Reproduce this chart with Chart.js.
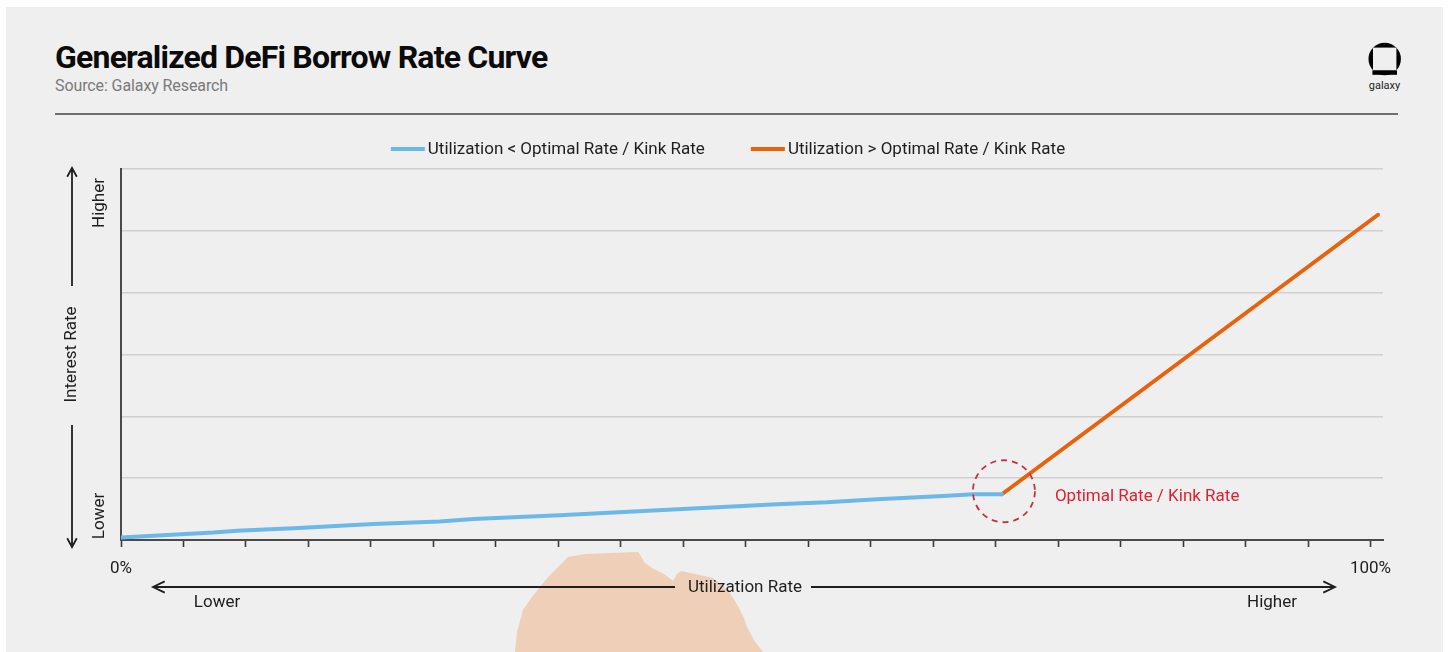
<!DOCTYPE html>
<html>
<head>
<meta charset="utf-8">
<title>Generalized DeFi Borrow Rate Curve</title>
<script src="https://cdn.jsdelivr.net/npm/chart.js@4.4.1/dist/chart.umd.min.js"></script>
<style>
  html, body { margin: 0; padding: 0; background: #fff; }
  body { width: 1450px; height: 652px; position: relative; overflow: hidden; font-family: Roboto, "Noto Sans", sans-serif; }
  .card { position: absolute; left: 6px; top: 7px; width: 1437px; height: 660px; background: #efefef; }
  h1 { position: absolute; left: 55px; top: 41px; margin: 0; font-size: 32px; font-weight: 700; letter-spacing: -0.8px; line-height: 1; color: #0b0b0b; white-space: nowrap; }
  .source { position: absolute; left: 55px; top: 77px; font-size: 16px; line-height: 18px; letter-spacing: -0.1px; color: #7a7a7a; }
  .rule { position: absolute; left: 55px; top: 113px; width: 1343px; height: 2px; background: #6e6e6e; }
  .logo { position: absolute; left: 1364px; top: 40px; }
  .logo-text { position: absolute; left: 1364px; top: 79px; width: 41px; text-align: center; font-size: 11px; line-height: 13px; color: #222; }
  .blob { position: absolute; left: 0; top: 0; }
  .chart-box { position: absolute; left: 0; top: 120px; width: 1450px; height: 532px; }
</style>
</head>
<body>
<div class="card"></div>
<h1>Generalized DeFi Borrow Rate Curve</h1>
<div class="source">Source: Galaxy Research</div>
<div class="rule"></div>
<svg class="logo" width="42" height="38" viewBox="0 0 42 38">
  <circle cx="20.7" cy="19" r="16.2" fill="#000"/>
  <rect x="9" y="7.6" width="23.4" height="23" fill="#efefef"/>
  <rect x="8.4" y="30.4" width="24.6" height="4.4" fill="#000"/>
</svg>
<div class="logo-text">galaxy</div>
<svg class="blob" width="1450" height="652">
  <path fill="#efcfb7" d="M515,652 L517,632 L523,610 L532,597 L540,587 L550,575 L560,565 L568,557 L585,554 L610,553 L638,552 L641,556 L644,562 L652,568 L664,574 L673,581 L677,574 L681,571 L695,574 L713,578 L722,585 L730,593 L738,606 L744,618 L747,627 L754,640 L763,652 Z"/>
</svg>
<div class="chart-box"><canvas id="rateChart"></canvas></div>

<script>
// Utilization (%) and interest rate (relative units) below the kink
const belowKinkUtil = [0, 7.4, 9.3, 13.8, 20.2, 25.5, 28.2, 35.1, 41.8, 52.5, 56.5, 60.5, 65.8, 68.2, 70.5];
const belowKinkRate = [0.04, 0.12, 0.15, 0.19, 0.26, 0.30, 0.34, 0.40, 0.47, 0.58, 0.61, 0.66, 0.71, 0.74, 0.74];

// Above the kink the slope jumps
const aboveKinkUtil = [70.5, 100.6];
const aboveKinkRate = [0.74, 5.26];

const seriesLabels = ['Utilization < Optimal Rate / Kink Rate', 'Utilization > Optimal Rate / Kink Rate'];
const seriesColors = ['#6bb8e9', '#e8620c'];
const xTickLabels = { 0: '0%', 100: '100%' };
const kinkLabel = 'Optimal Rate / Kink Rate';

const FONT = 'Roboto, "Noto Sans", sans-serif';
const TEXT_SIZE = 17;
const INK = '#1e1e1e';

function toPoints(xs, ys) {
  return xs.map(function (x, i) { return { x: x, y: ys[i] }; });
}

// Open chevron arrow from (x1,y1) to (x2,y2)
function arrow(ctx, x1, y1, x2, y2, head, spread) {
  const ang = Math.atan2(y2 - y1, x2 - x1);
  ctx.beginPath();
  ctx.moveTo(x1, y1);
  ctx.lineTo(x2, y2);
  ctx.moveTo(x2 - head * Math.cos(ang - spread), y2 - head * Math.sin(ang - spread));
  ctx.lineTo(x2, y2);
  ctx.lineTo(x2 - head * Math.cos(ang + spread), y2 - head * Math.sin(ang + spread));
  ctx.stroke();
}

function rotatedText(ctx, text, x, y) {
  ctx.save();
  ctx.translate(x, y);
  ctx.rotate(-Math.PI / 2);
  ctx.fillText(text, 0, 0);
  ctx.restore();
}

// Line-sample legend centred above the plot
const lineLegend = {
  id: 'lineLegend',
  afterDraw(chart) {
    const ctx = chart.ctx;
    const sample = 34, gap = 3, between = 46;
    ctx.save();
    ctx.font = TEXT_SIZE + 'px ' + FONT;
    ctx.textBaseline = 'middle';
    ctx.textAlign = 'left';
    const items = chart.data.datasets.map(function (ds) {
      return { text: ds.label, color: ds.borderColor, w: sample + gap + ctx.measureText(ds.label).width };
    });
    const total = items.reduce(function (s, it) { return s + it.w; }, 0) + between * (items.length - 1);
    let x = 728 - total / 2;
    const y = 29;
    items.forEach(function (it) {
      ctx.strokeStyle = it.color;
      ctx.lineWidth = 4;
      ctx.beginPath();
      ctx.moveTo(x, y);
      ctx.lineTo(x + sample, y);
      ctx.stroke();
      ctx.fillStyle = INK;
      ctx.fillText(it.text, x + sample + gap, y + 1);
      x += it.w + between;
    });
    ctx.restore();
  }
};

// Axis titles, direction arrows and the kink callout
const decorations = {
  id: 'decorations',
  afterDraw(chart) {
    const { ctx, chartArea: a, scales } = chart;
    ctx.save();
    ctx.strokeStyle = INK;
    ctx.fillStyle = INK;
    ctx.lineWidth = 1.8;

    // y axis
    const ax = a.left - 49;
    arrow(ctx, ax, a.top + 117, ax, a.top - 1, 10, 0.5);
    arrow(ctx, ax, a.bottom - 115, ax, a.bottom + 7, 10, 0.5);
    ctx.font = TEXT_SIZE + 'px ' + FONT;
    ctx.textAlign = 'center';
    ctx.textBaseline = 'middle';
    rotatedText(ctx, 'Interest Rate', ax, (a.top + a.bottom) / 2);
    rotatedText(ctx, 'Higher', a.left - 21, a.top + 34);
    rotatedText(ctx, 'Lower', a.left - 21, a.bottom - 24);

    // x axis
    const ay = a.bottom + 47;
    const mid = (a.left + a.right) / 2 - 7;
    arrow(ctx, mid - 70, ay, a.left + 32, ay, 13, 0.45);
    arrow(ctx, mid + 66, ay, a.right - 48, ay, 13, 0.45);
    ctx.fillText('Utilization Rate', mid, ay + 1);
    ctx.fillText('Lower', a.left + 96, ay + 16);
    ctx.fillText('Higher', a.right - 111, ay + 16);

    // kink callout
    const kx = scales.x.getPixelForValue(belowKinkUtil[belowKinkUtil.length - 1]);
    const ky = scales.y.getPixelForValue(belowKinkRate[belowKinkRate.length - 1]);
    ctx.strokeStyle = '#c8303f';
    ctx.lineWidth = 1.8;
    ctx.setLineDash([6, 5]);
    ctx.beginPath();
    ctx.arc(kx + 2, ky - 3, 31, 0, Math.PI * 2);
    ctx.stroke();
    ctx.setLineDash([]);
    ctx.fillStyle = '#e1202f';
    ctx.textAlign = 'left';
    ctx.fillText(kinkLabel, kx + 53, ky + 3);
    ctx.restore();
  }
};

Chart.defaults.font.family = FONT;
Chart.defaults.color = INK;

new Chart(document.getElementById('rateChart'), {
  type: 'line',
  data: {
    datasets: [{
      label: seriesLabels[0],
      data: toPoints(belowKinkUtil, belowKinkRate),
      borderColor: seriesColors[0],
      borderWidth: 4,
      pointRadius: 0,
      borderCapStyle: 'round',
      tension: 0
    }, {
      label: seriesLabels[1],
      data: toPoints(aboveKinkUtil, aboveKinkRate),
      borderColor: seriesColors[1],
      borderWidth: 4,
      pointRadius: 0,
      borderCapStyle: 'round',
      tension: 0
    }]
  },
  options: {
    responsive: true,
    maintainAspectRatio: false,
    animation: false,
    layout: { padding: { left: 121, right: 67, top: 49, bottom: 52 } },
    plugins: {
      legend: { display: false },
      tooltip: { enabled: false }
    },
    scales: {
      x: {
        type: 'linear',
        min: 0,
        max: 101,
        afterFit: function (scale) { scale.height = 60; },
        border: { color: '#4a4a4a', width: 2 },
        grid: { drawOnChartArea: false, drawTicks: true, tickLength: 7, tickWidth: 1.6, tickColor: '#3a3a3a' },
        ticks: {
          stepSize: 5,
          includeBounds: false,
          autoSkip: false,
          maxRotation: 0,
          padding: 12,
          font: { size: TEXT_SIZE },
          color: INK,
          callback: function (v) { return xTickLabels[v] || ''; }
        }
      },
      y: {
        min: 0,
        max: 6,
        afterFit: function (scale) { scale.width = 0; },
        border: { color: '#4a4a4a', width: 2 },
        grid: { color: '#cfcfcf', lineWidth: 1.5, drawTicks: false },
        ticks: { display: false, stepSize: 1 }
      }
    }
  },
  plugins: [lineLegend, decorations]
});
</script>
</body>
</html>
